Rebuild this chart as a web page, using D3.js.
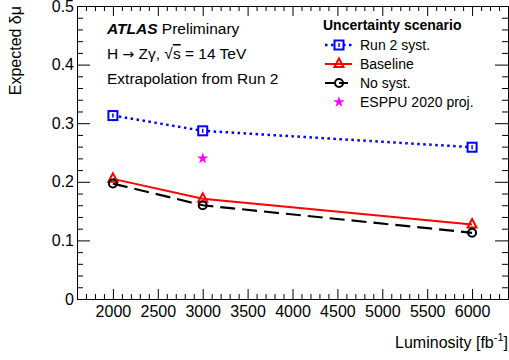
<!DOCTYPE html>
<html>
<head>
<meta charset="utf-8">
<script src="https://cdn.jsdelivr.net/npm/d3@7"></script>
<style>
  body { margin: 0; background: #fff; }
  text { font-family: "Liberation Sans", Arial, Helvetica, sans-serif; fill: #000; }
</style>
</head>
<body>
<svg id="chart" width="509" height="360"></svg>
<script>
// luminosity points, fb^-1
var lumi = [2000, 3000, 6000];
var run2Syst = [0.313, 0.287, 0.259];
var baseline = [0.205, 0.171, 0.127];
var noSyst = [0.197, 0.160, 0.113];
var esppuLumi = [3000];
var esppu = [0.240];

var xMajor = [2000, 2500, 3000, 3500, 4000, 4500, 5000, 5500, 6000];
var yMajor = [0, 0.1, 0.2, 0.3, 0.4, 0.5];

var svg = d3.select("#chart");

// frame edges (note: "top" is a reserved window global)
var fLeft = 77, fRight = 508, fTop = 6, fBottom = 299;

var x = d3.scaleLinear().domain([1600, 6400]).range([fLeft, fRight]);
var y = d3.scaleLinear().domain([0, 0.5]).range([fBottom, fTop]);

var xMinor = d3.range(1600, 6401, 100).filter(function(v) { return v % 500 != 0; });
var yMinor = d3.range(0, 51, 2).map(function(v) { return v / 100; }).filter(function(v) { return Math.round(v * 100) % 10 != 0; });

function styleAxis(g) {
  g.selectAll("path").attr("stroke", "#000").attr("stroke-width", 1);
  g.selectAll("line").attr("stroke", "#000").attr("stroke-width", 1);
  g.selectAll("text").style("font-size", "16px").style("font-family", "'Liberation Sans', Arial, sans-serif").attr("fill", "#000");
}

// bottom
svg.append("g").attr("transform", "translate(0," + fBottom + ")")
  .call(d3.axisBottom(x).tickValues(xMajor).tickSizeInner(-10).tickSizeOuter(0).tickPadding(7).tickFormat(d3.format("d")))
  .call(styleAxis);
svg.append("g").attr("transform", "translate(0," + fBottom + ")")
  .call(d3.axisBottom(x).tickValues(xMinor).tickSizeInner(-5).tickSizeOuter(0).tickFormat(""))
  .call(styleAxis);
// top
svg.append("g").attr("transform", "translate(0," + fTop + ")")
  .call(d3.axisTop(x).tickValues(xMajor).tickSizeInner(-10).tickSizeOuter(0).tickFormat(""))
  .call(styleAxis);
svg.append("g").attr("transform", "translate(0," + fTop + ")")
  .call(d3.axisTop(x).tickValues(xMinor).tickSizeInner(-5).tickSizeOuter(0).tickFormat(""))
  .call(styleAxis);
// left
svg.append("g").attr("transform", "translate(" + fLeft + ",0)")
  .call(d3.axisLeft(y).tickValues(yMajor).tickSizeInner(-13).tickSizeOuter(0).tickPadding(3).tickFormat(function(d) { return d == 0 ? "0" : d3.format(".1f")(d); }))
  .call(styleAxis);
svg.append("g").attr("transform", "translate(" + fLeft + ",0)")
  .call(d3.axisLeft(y).tickValues(yMinor).tickSizeInner(-6).tickSizeOuter(0).tickFormat(""))
  .call(styleAxis);
// right
svg.append("g").attr("transform", "translate(" + fRight + ",0)")
  .call(d3.axisRight(y).tickValues(yMajor).tickSizeInner(-13).tickSizeOuter(0).tickFormat(""))
  .call(styleAxis);
svg.append("g").attr("transform", "translate(" + fRight + ",0)")
  .call(d3.axisRight(y).tickValues(yMinor).tickSizeInner(-6).tickSizeOuter(0).tickFormat(""))
  .call(styleAxis);

// axis titles
svg.append("text")
    .attr("transform", "translate(21,6) rotate(-90)")
    .attr("text-anchor", "end")
    .style("font-size", "16px")
    .text("Expected δμ");

var xt = svg.append("text")
    .attr("x", 508)
    .attr("y", 348)
    .attr("text-anchor", "end")
    .style("font-size", "16px");
xt.append("tspan").text("Luminosity [fb");
xt.append("tspan").attr("dy", -7).style("font-size", "11px").text("-1");
xt.append("tspan").attr("dy", 7).text("]");

// series
function series(xs, ys, color, width, dash) {
  var line = d3.line().x(function(d, i) { return x(xs[i]); }).y(function(d) { return y(d); });
  svg.append("path")
      .datum(ys)
      .attr("d", line)
      .attr("fill", "none")
      .attr("stroke", color)
      .attr("stroke-width", width)
      .attr("stroke-dasharray", dash);
}

series(lumi, run2Syst, "#0000ff", 2.5, "2.5,3.5");
series(lumi, baseline, "#ff0000", 2, null);
series(lumi, noSyst, "#000", 2.2, "15,7");

function square(cx, cy) {
  svg.append("rect")
      .attr("x", cx - 4.5).attr("y", cy - 4.5)
      .attr("width", 9).attr("height", 9)
      .attr("fill", "#fff").attr("stroke", "#0000ff").attr("stroke-width", 2);
  svg.append("line")
      .attr("x1", cx).attr("x2", cx).attr("y1", cy - 2).attr("y2", cy + 2)
      .attr("stroke", "#0000ff").attr("stroke-width", 1.5);
}

function triangle(cx, cy) {
  svg.append("path")
      .attr("d", "M" + cx + "," + (cy - 5.5) + "L" + (cx + 4.5) + "," + (cy + 3) + "L" + (cx - 4.5) + "," + (cy + 3) + "Z")
      .attr("fill", "none").attr("stroke", "#ff0000").attr("stroke-width", 2);
}

function circle(cx, cy) {
  svg.append("circle")
      .attr("cx", cx).attr("cy", cy).attr("r", 4)
      .attr("fill", "none").attr("stroke", "#000").attr("stroke-width", 2);
}

function star(cx, cy) {
  svg.append("path")
      .attr("transform", "translate(" + cx + "," + cy + ")")
      .attr("d", d3.symbol().type(d3.symbolStar).size(40)())
      .attr("fill", "#ff00ff");
}

lumi.forEach(function(l, i) {
  square(x(l), y(run2Syst[i]));
  triangle(x(l), y(baseline[i]));
  circle(x(l), y(noSyst[i]));
});
esppuLumi.forEach(function(l, i) {
  star(x(l), y(esppu[i]));
});

// ATLAS label
var t1 = svg.append("text").attr("x", 107).attr("y", 34).style("font-size", "15.5px");
t1.append("tspan").style("font-weight", "bold").style("font-style", "italic").text("ATLAS");
t1.append("tspan").text(" Preliminary");

var t2 = svg.append("text").attr("x", 107).attr("y", 59).style("font-size", "15.5px");
t2.append("tspan").text("H ");
t2.append("tspan").style("font-family", "'DejaVu Sans', sans-serif").style("font-size", "14px").text("→");
t2.append("tspan").text(" Zγ, √");
t2.append("tspan").style("text-decoration", "overline").text("s");
t2.append("tspan").text(" = 14 TeV");

svg.append("text").attr("x", 107).attr("y", 84).style("font-size", "15.5px")
    .text("Extrapolation from Run 2");

// legend
svg.append("text").attr("x", 323).attr("y", 30)
    .style("font-size", "14px").style("font-weight", "bold")
    .text("Uncertainty scenario");

var legY = [50, 69, 88, 107];
var legNames = ["Run 2 syst.", "Baseline", "No syst.", "ESPPU 2020 proj."];

svg.append("line").attr("x1", 325).attr("x2", 352).attr("y1", legY[0] - 5).attr("y2", legY[0] - 5)
    .attr("stroke", "#0000ff").attr("stroke-width", 2.5).attr("stroke-dasharray", "2.5,3.5");
square(339, legY[0] - 5);
svg.append("line").attr("x1", 325).attr("x2", 352).attr("y1", legY[1] - 5).attr("y2", legY[1] - 5)
    .attr("stroke", "#ff0000").attr("stroke-width", 2);
triangle(339, legY[1] - 5);
svg.append("line").attr("x1", 325).attr("x2", 352).attr("y1", legY[2] - 5).attr("y2", legY[2] - 5)
    .attr("stroke", "#000").attr("stroke-width", 2).attr("stroke-dasharray", "9,5");
circle(339, legY[2] - 5);
star(339, legY[3] - 5);

legNames.forEach(function(n, i) {
  svg.append("text").attr("x", 360).attr("y", legY[i]).style("font-size", "14px").text(n);
});
</script>
</body>
</html>
